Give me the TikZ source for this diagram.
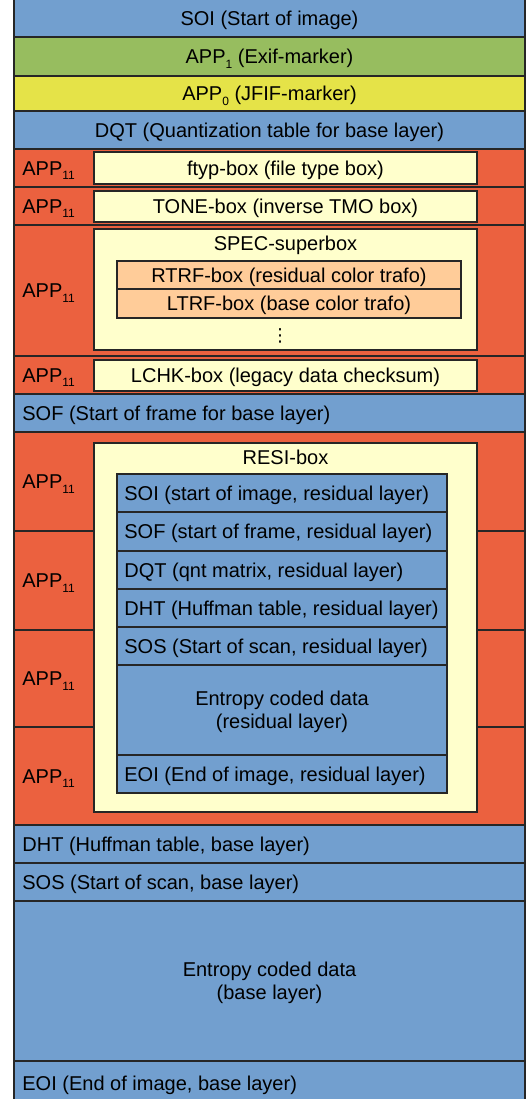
\documentclass[tikz,border=0pt]{standalone}
\usepackage{fontspec}
\setmainfont{Liberation Sans}
\newfontfamily\symbolschrift{DejaVu Sans}
\definecolor{jpgblau}{HTML}{729FCF}
\definecolor{jpggruen}{HTML}{97BD5F}
\definecolor{jpggelb}{HTML}{E5E348}
\definecolor{jpgrot}{HTML}{EB613F}
\definecolor{boxgelb}{HTML}{FFFFCC}
\definecolor{boxorange}{HTML}{FFCC99}
\newcommand{\appidx}[1]{\raisebox{-2.2pt}{\fontsize{6}{7}\selectfont #1}}
\tikzset{
  feld/.style={draw=black!85,line width=0.6pt},
  txt/.style={anchor=base,yshift=-3.6pt,inner sep=0pt,font=\fontsize{10}{11.5}\selectfont},
  txtl/.style={txt,anchor=base west},
  txtz/.style={anchor=center,align=center,inner sep=0pt,font=\fontsize{10}{11.5}\selectfont}
}
\begin{document}
\begin{tikzpicture}[x=0.5pt,y=-0.5pt]
\useasboundingbox (0,0) rectangle (530,1099);
\clip (0,0) rectangle (530,1099);
%Marker oben
	\draw[feld,fill=jpgblau] (14,-3) rectangle (525,37);
	\draw[feld,fill=jpggruen] (14,37) rectangle (525,76);
	\draw[feld,fill=jpggelb] (14,76) rectangle (525,111);
	\draw[feld,fill=jpgblau] (14,111) rectangle (525,149);
	\draw (269.5,18.5) node (soi)
	  [txt]
	  {SOI (Start of image)};
	\draw (269.5,56.5) node (appeins)
	  [txt]
	  {APP\appidx{1} (Exif-marker)};
	\draw (269.5,93.5) node (appnull)
	  [txt]
	  {APP\appidx{0} (JFIF-marker)};
	\draw (269.5,130) node (dqt)
	  [txt]
	  {DQT (Quantization table for base layer)};
%APP11 mit Boxen
	\draw[feld,fill=jpgrot] (14,149) rectangle (525,187);
	\draw[feld,fill=jpgrot] (14,187) rectangle (525,225);
	\draw[feld,fill=jpgrot] (14,225) rectangle (525,356);
	\draw[feld,fill=jpgrot] (14,356) rectangle (525,394);
	\draw[feld,fill=boxgelb] (94,152) rectangle (477,184);
	\draw[feld,fill=boxgelb] (94,191) rectangle (477,222);
	\draw[feld,fill=boxgelb] (94,229) rectangle (477,350);
	\draw[feld,fill=boxgelb] (94,360) rectangle (477,391);
	\draw[feld,fill=boxorange] (117,261) rectangle (461,289);
	\draw[feld,fill=boxorange] (117,289) rectangle (461,318);
	\foreach \y/\name in {168/appa,206/appb,290.5/appc,375/appd}{
	  \draw (22,\y) node (\name) [txtl] {APP\appidx{11}};}
	\draw (285.5,168) node (ftyp)
	  [txt]
	  {ftyp-box (file type box)};
	\draw (285.5,206.5) node (tone)
	  [txt]
	  {TONE-box (inverse TMO box)};
	\draw (285.5,243.5) node (spec)
	  [txt]
	  {SPEC-superbox};
	\draw (289,275) node (rtrf)
	  [txt]
	  {RTRF-box (residual color trafo)};
	\draw (289,303.5) node (ltrf)
	  [txt]
	  {LTRF-box (base color trafo)};
	\draw (280,336) node (punkte)
	  [anchor=center,inner sep=0pt]
	  {\symbolschrift\fontsize{9}{9}\selectfont ⋮};
	\draw (285.5,375.5) node (lchk)
	  [txt]
	  {LCHK-box (legacy data checksum)};
%SOF
	\draw[feld,fill=jpgblau] (14,394) rectangle (525,432);
	\draw (22,413.5) node (sof)
	  [txtl]
	  {SOF (Start of frame for base layer)};
%RESI-Box
	\foreach \ya/\yb [count=\i] in {432/531,531/630,630/727,727/825}{
	  \draw[feld,fill=jpgrot] (14,\ya) rectangle (525,\yb);
	  \draw (22,{(\ya+\yb)/2}) node (appresi\i) [txtl] {APP\appidx{11}};}
	\draw[feld,fill=boxgelb] (94,443) rectangle (477,812);
	\draw (285.5,457) node (resi)
	  [txt]
	  {RESI-box};
	\foreach \ya/\yb/\name/\inhalt in {474/512/soir/{SOI (start of image, residual layer)},
	    512/551/sofr/{SOF (start of frame, residual layer)},
	    551/589/dqtr/{DQT (qnt matrix, residual layer)},
	    589/627/dhtr/{DHT (Huffman table, residual layer)},
	    627/665/sosr/{SOS (Start of scan, residual layer)},
	    755/793/eoir/{EOI (End of image, residual layer)}}{
	  \draw[feld,fill=jpgblau] (117,\ya) rectangle (447,\yb);
	  \draw (124,{(\ya+\yb)/2}) node (\name) [txtl] {\inhalt};}
	\draw[feld,fill=jpgblau] (117,665) rectangle (447,755);
	\draw (282,712) node (entr)
	  [txtz]
	  {Entropy coded data\\(residual layer)};
%Rest Basisschicht
	\draw[feld,fill=jpgblau] (14,825) rectangle (525,863);
	\draw[feld,fill=jpgblau] (14,863) rectangle (525,901);
	\draw[feld,fill=jpgblau] (14,901) rectangle (525,1061);
	\draw[feld,fill=jpgblau] (14,1061) rectangle (525,1106);
	\draw (22,844) node (dht)
	  [txtl]
	  {DHT (Huffman table, base layer)};
	\draw (22,882) node (sos)
	  [txtl]
	  {SOS (Start of scan, base layer)};
	\draw (269.5,983) node (entb)
	  [txtz]
	  {Entropy coded data\\(base layer)};
	\draw (22,1083.5) node (eoi)
	  [txtl]
	  {EOI (End of image, base layer)};
\end{tikzpicture}
\end{document}
